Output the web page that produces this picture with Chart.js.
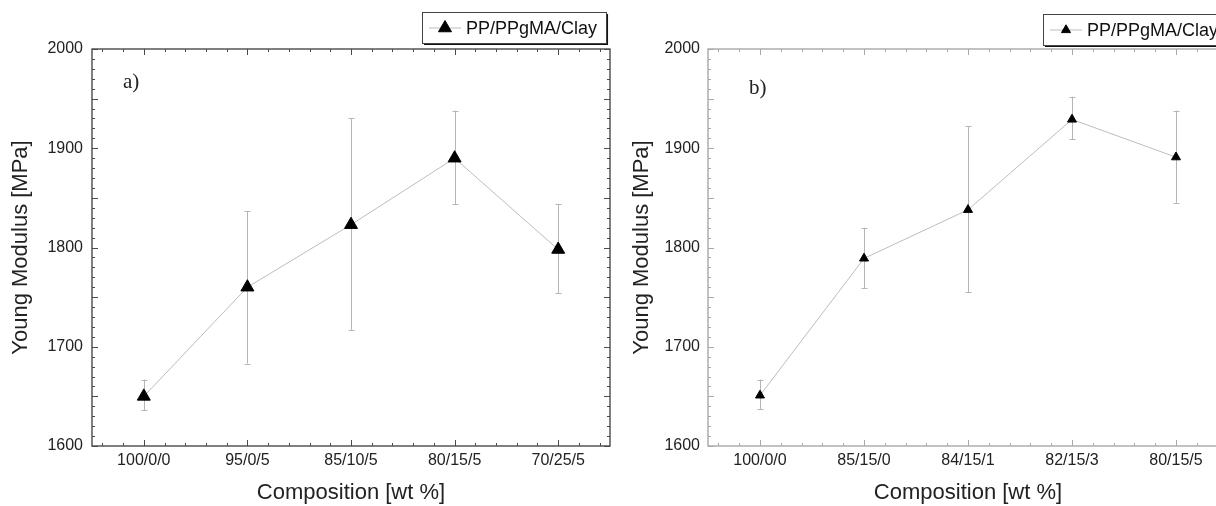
<!DOCTYPE html>
<html><head><meta charset="utf-8">
<script src="https://cdn.jsdelivr.net/npm/chart.js@4.4.1/dist/chart.umd.min.js"></script>
<style>
html,body{margin:0;padding:0;background:#fff;overflow:hidden;width:1216px;height:506px}
#wa{position:absolute;left:0;top:0;width:620px;height:506px}
#wb{position:absolute;left:620px;top:0;width:620px;height:506px}
</style></head><body>
<div id="wa"><canvas id="ca" width="620" height="506"></canvas></div>
<div id="wb"><canvas id="cb" width="620" height="506"></canvas></div>
<script>
// ---- data ----
const seriesName = 'PP/PPgMA/Clay';
const categoriesA = ['100/0/0', '95/0/5', '85/10/5', '80/15/5', '70/25/5'];
const valuesA = [1650, 1760, 1823, 1890, 1798];
const errLowA = [1636, 1683, 1717, 1844, 1754];
const errHighA = [1667, 1837, 1930, 1938, 1844];

const categoriesB = ['100/0/0', '85/15/0', '84/15/1', '82/15/3', '80/15/5'];
const valuesB = [1651, 1789, 1838, 1929, 1891];
const errLowB = [1637, 1759, 1755, 1909, 1845];
const errHighB = [1667, 1820, 1922, 1952, 1938];

const yMin = 1600, yMax = 2000, yLabelStep = 100, yMajorStep = 50, yMinorStep = 10;
const xTitle = 'Composition [wt %]';
const yTitle = 'Young Modulus [MPa]';

// ---- plugins ----
const framePlugin = {
  id: 'frameTicks',
  beforeDatasetsDraw(chart, args, opts) {
    const {ctx, chartArea: ca} = chart;
    const xs = chart.scales.x, ys = chart.scales.y;
    ctx.save();
    ctx.strokeStyle = opts.color;
    ctx.lineWidth = 1.4;
    ctx.strokeRect(ca.left, ca.top, ca.right - ca.left, ca.bottom - ca.top);
    ctx.lineWidth = 1;
    ctx.beginPath();
    for (let v = yMin; v <= yMax; v += yMinorStep) {
      const py = Math.round(ys.getPixelForValue(v)) + 0.5;
      const len = (v % yMajorStep === 0) ? 6 : 3;
      ctx.moveTo(ca.left, py); ctx.lineTo(ca.left + len, py);
      ctx.moveTo(ca.right, py); ctx.lineTo(ca.right - len, py);
    }
    const n = chart.data.labels.length;
    for (let i = 0; i < n; i++) {
      for (let k = -2; k <= 2; k++) {
        const px = Math.round(xs.getPixelForValue(i + k / 5)) + 0.5;
        const len = k === 0 ? 6 : 3;
        ctx.moveTo(px, ca.bottom); ctx.lineTo(px, ca.bottom - len);
        ctx.moveTo(px, ca.top); ctx.lineTo(px, ca.top + len);
      }
    }
    ctx.stroke();
    ctx.restore();
  }
};

const errorBarPlugin = {
  id: 'errorBars',
  beforeDatasetsDraw(chart, args, opts) {
    const {ctx} = chart;
    const xs = chart.scales.x, ys = chart.scales.y;
    ctx.save();
    ctx.strokeStyle = opts.color;
    ctx.lineWidth = 1;
    ctx.beginPath();
    opts.low.forEach((lo, i) => {
      const px = Math.round(xs.getPixelForValue(i)) + 0.5;
      const yl = ys.getPixelForValue(lo), yh = ys.getPixelForValue(opts.high[i]);
      ctx.moveTo(px, yl); ctx.lineTo(px, yh);
      ctx.moveTo(px - opts.cap, Math.round(yl) + 0.5); ctx.lineTo(px + opts.cap, Math.round(yl) + 0.5);
      ctx.moveTo(px - opts.cap, Math.round(yh) + 0.5); ctx.lineTo(px + opts.cap, Math.round(yh) + 0.5);
    });
    ctx.stroke();
    ctx.restore();
  }
};

const boxLegendPlugin = {
  id: 'boxLegend',
  afterDraw(chart, args, opts) {
    const {ctx} = chart;
    const ds = chart.data.datasets[0];
    ctx.save();
    ctx.font = '18px "Liberation Sans", Arial, sans-serif';
    const tw = ctx.measureText(ds.label).width;
    const w = 44 + tw + 9, h = 31;
    const L = opts.left, T = opts.top;
    ctx.fillStyle = '#111';
    ctx.fillRect(L + 2, T + 2, w, h);
    ctx.fillStyle = '#fff';
    ctx.fillRect(L, T, w, h);
    ctx.strokeStyle = '#444';
    ctx.lineWidth = 1;
    ctx.strokeRect(L + 0.5, T + 0.5, w, h);
    const cy = T + h / 2 + 0.5;
    ctx.strokeStyle = ds.borderColor;
    ctx.beginPath(); ctx.moveTo(L + 7, cy); ctx.lineTo(L + 39, cy); ctx.stroke();
    ctx.fillStyle = ds.pointBackgroundColor;
    ctx.strokeStyle = ds.pointBorderColor;
    ctx.lineWidth = 1;
    Chart.helpers.drawPoint(ctx, {pointStyle: 'triangle', radius: ds.pointRadius, borderWidth: 1, rotation: 0}, L + 23, cy);
    ctx.fillStyle = '#111';
    ctx.textBaseline = 'middle';
    ctx.fillText(ds.label, L + 44, cy + 1);
    ctx.restore();
  }
};

const panelLabelPlugin = {
  id: 'panelLabel',
  afterDraw(chart, args, opts) {
    const {ctx, chartArea: ca} = chart;
    ctx.save();
    ctx.font = '21px "Liberation Serif", "Times New Roman", serif';
    ctx.fillStyle = '#222';
    ctx.textBaseline = 'middle';
    ctx.fillText(opts.text, ca.left + opts.dx, ca.top + opts.dy);
    ctx.restore();
  }
};

function makeChart(id, cats, vals, lo, hi, cfg) {
  return new Chart(document.getElementById(id), {
    type: 'line',
    data: {
      labels: cats,
      datasets: [{
        label: seriesName,
        data: vals,
        borderColor: '#bdbdbd',
        borderWidth: 1,
        pointStyle: 'triangle',
        pointRadius: cfg.r,
        pointHoverRadius: cfg.r,
        pointBackgroundColor: '#000',
        pointBorderColor: '#000',
        pointBorderWidth: 1,
        tension: 0,
        fill: false
      }]
    },
    options: {
      responsive: false,
      animation: false,
      devicePixelRatio: 1,
      layout: {padding: {left: 0, right: cfg.padRight, top: 49, bottom: 0}},
      plugins: {
        legend: {display: false},
        tooltip: {enabled: false},
        frameTicks: {color: cfg.frame},
        errorBars: {low: lo, high: hi, color: '#b5b5b5', cap: 3},
        boxLegend: {left: cfg.legL, top: cfg.legT},
        panelLabel: {text: cfg.label, dx: cfg.ldx, dy: cfg.ldy}
      },
      scales: {
        x: {
          type: 'category',
          offset: true,
          grid: {display: false, drawTicks: false},
          border: {display: false},
          ticks: {color: '#222', padding: 5, font: {family: '"Liberation Sans", Arial, sans-serif', size: 16}, maxRotation: 0},
          title: {display: true, text: xTitle, color: '#222', padding: {top: 0, bottom: 0},
                  font: {family: '"Liberation Sans", Arial, sans-serif', size: 22}},
          afterFit(s) { s.height = 60; }
        },
        y: {
          min: yMin, max: yMax,
          grid: {display: false, drawTicks: false},
          border: {display: false},
          ticks: {stepSize: yLabelStep, color: '#222', padding: cfg.ypad,
                  callback: (v) => String(v),
                  font: {family: '"Liberation Sans", Arial, sans-serif', size: 16}},
          title: {display: true, text: yTitle, color: '#222', padding: {top: cfg.ytp, bottom: 0},
                  font: {family: '"Liberation Sans", Arial, sans-serif', size: 22}},
          afterFit(s) { s.width = cfg.yw; }
        }
      }
    },
    plugins: [framePlugin, errorBarPlugin, boxLegendPlugin, panelLabelPlugin]
  });
}

makeChart('ca', categoriesA, valuesA, errLowA, errHighA,
  {r: 7.5, padRight: 10, frame: '#4a4a4a', legL: 422, legT: 12, label: 'a)', ldx: 31, ldy: 33, ypad: 9, ytp: 8, yw: 92});
makeChart('cb', categoriesB, valuesB, errLowB, errHighB,
  {r: 5.2, padRight: 12, frame: '#a8a8a8', legL: 423, legT: 14, label: 'b)', ldx: 41, ldy: 39, ypad: 8, ytp: 9, yw: 88});
</script>
</body></html>
